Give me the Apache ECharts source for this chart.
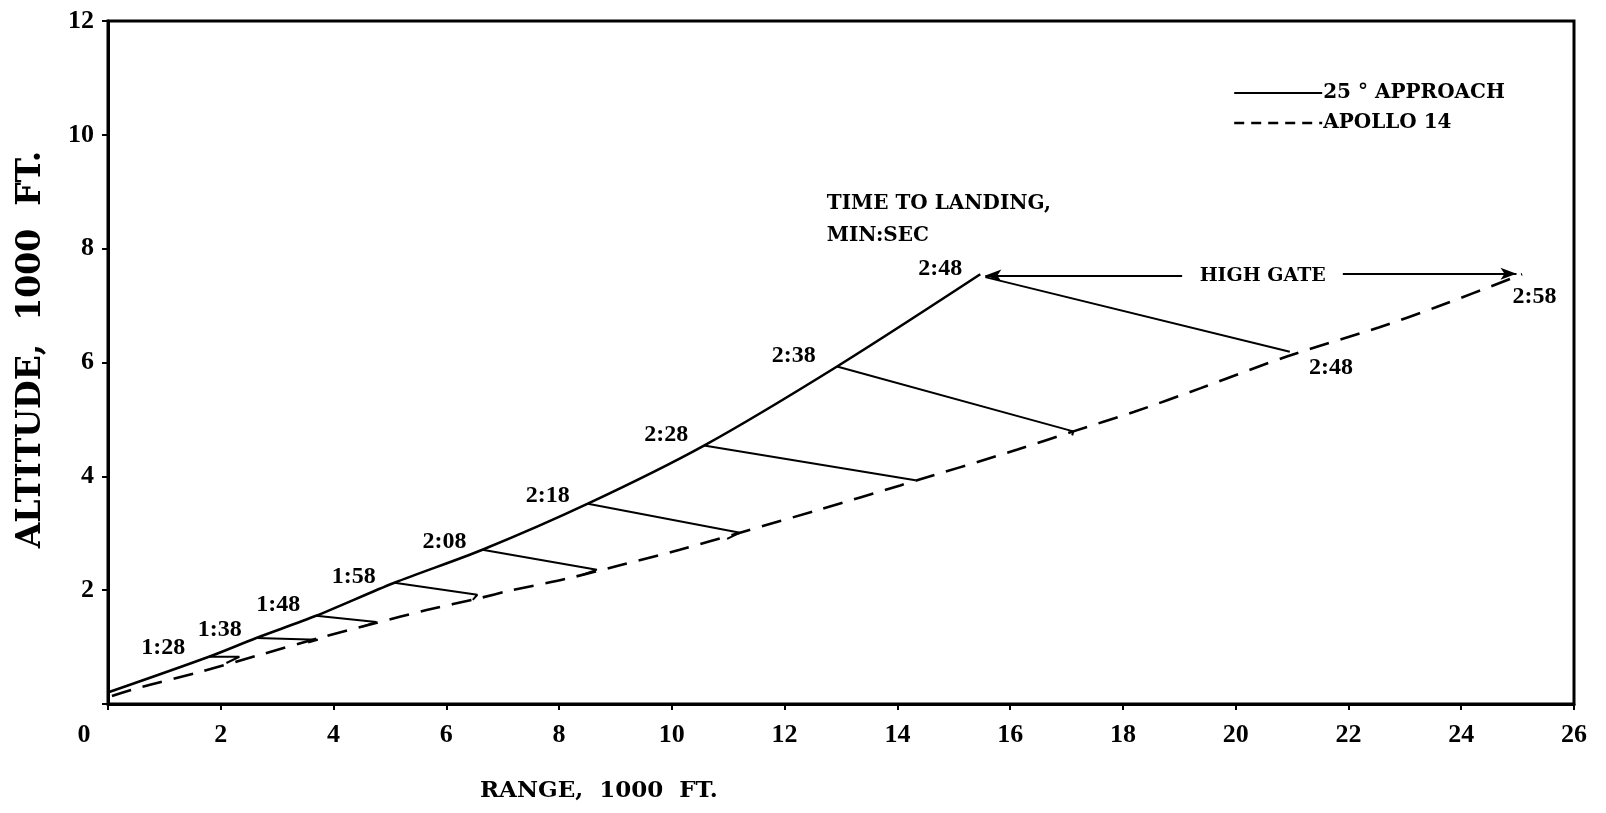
<!DOCTYPE html>
<html>
<head>
<meta charset="utf-8">
<script src="https://cdn.jsdelivr.net/npm/echarts@6/dist/echarts.min.js"></script>
<style>html,body{margin:0;padding:0;background:#fff;}#c{width:1606px;height:813px;}</style>
</head>
<body>
<div id="c"></div>
<script>
// ---- data (range & altitude in 1000 ft) ----
const xTicks = [0, 2, 4, 6, 8, 10, 12, 14, 16, 18, 20, 22, 24, 26];
const yTicks = [0, 2, 4, 6, 8, 10, 12];

const rangeSolid = [0.02, 1.79, 2.63, 3.69, 5.08, 6.64, 8.51, 10.57, 12.93, 15.47];
const altSolid   = [0.21, 0.83, 1.16, 1.55, 2.13, 2.71, 3.52, 4.54, 5.93, 7.55];

const rangeDash = [0.07, 0.60, 1.62, 2.68, 3.75, 4.70, 5.65, 6.59, 7.12, 8.13, 9.13, 10.14, 11.21, 12.63, 14.05, 16.13, 17.12, 18.19, 19.38, 20.92, 22.55, 23.55, 25.08];
const altDash   = [0.14, 0.30, 0.56, 0.86, 1.16, 1.41, 1.65, 1.86, 1.99, 2.20, 2.45, 2.71, 3.01, 3.42, 3.84, 4.47, 4.79, 5.13, 5.55, 6.11, 6.62, 6.97, 7.55];

// connectors between equal-time points (solid start, dashed end, small hook)
const connRange = [[1.79, 2.33, 2.10], [2.63, 3.72, 3.55], [3.69, 4.76, 4.51], [5.08, 6.55, 6.47], [6.64, 8.67, 8.42], [8.51, 11.21, 10.98], [10.57, 14.32], [12.93, 17.12, 17.10], [15.56, 20.96]];
const connAlt   = [[0.83, 0.83, 0.72], [1.16, 1.13, 1.08], [1.55, 1.44, 1.36], [2.13, 1.92, 1.83], [2.71, 2.36, 2.27], [3.52, 3.01, 2.90], [4.54, 3.93], [5.93, 4.79, 4.72], [7.50, 6.19]];

const timeLabels = ['1:28', '1:38', '1:48', '1:58', '2:08', '2:18', '2:28', '2:38', '2:48', '2:48', '2:58'];
const labelRange = [0.98, 1.98, 3.02, 4.36, 5.97, 7.80, 9.90, 12.16, 14.76, 21.69, 25.30];
const labelAlt   = [0.99, 1.30, 1.74, 2.23, 2.85, 3.66, 4.73, 6.11, 7.64, 5.91, 7.16];

const captionText = 'TIME TO LANDING,\nMIN:SEC';
const captionRange = 12.74, captionAlt = 8.50;
const gateText = 'HIGH GATE';
const gateRange = 20.48, gateAlt = 7.52;
const gateArrowRange = [[19.05, 15.56], [21.90, 24.98]];
const gateArrowAlt   = [[7.53, 7.53], [7.56, 7.56]];

const seriesNames = ['25 \u00B0 APPROACH', 'APOLLO 14'];

// ---- chart ----
const zip = (a, b) => a.map((v, i) => [v, b[i]]);
const serifB = 'DejaVu Serif';
const tickFont = 'Liberation Serif';

const series = [];
series.push({
  name: seriesNames[0], type: 'line', data: zip(rangeSolid, altSolid),
  smooth: 0.3, symbol: 'none', itemStyle: { color: '#000' },
  lineStyle: { color: '#000', width: 2.6, type: 'solid' }, z: 5
});
series.push({
  name: seriesNames[1], type: 'line', data: zip(rangeDash, altDash),
  smooth: 0.3, symbol: 'none', itemStyle: { color: '#000' },
  lineStyle: { color: '#000', width: 2.6, type: [20, 12] }, z: 5
});
connRange.forEach((xs, i) => {
  series.push({
    type: 'line', data: zip(xs, connAlt[i]), symbol: 'none', silent: true,
    lineStyle: { color: '#000', width: 2 }, z: 4
  });
});
const noMark = { color: 'rgba(0,0,0,0)', opacity: 1 };
series.push({
  type: 'scatter', symbolSize: 1, itemStyle: noMark, silent: true,
  data: timeLabels.map((t, i) => ({ name: t, value: [labelRange[i], labelAlt[i]] })),
  label: { show: true, position: 'inside', formatter: p => p.name, color: '#000', opacity: 1,
    fontFamily: tickFont, fontWeight: 'bold', fontSize: 24 }
});
series.push({
  type: 'scatter', symbolSize: 1, itemStyle: noMark, silent: true,
  data: [{ name: captionText, value: [captionRange, captionAlt] }],
  label: { show: true, position: 'right', distance: 0, align: 'left', formatter: p => p.name,
    color: '#000', opacity: 1, fontFamily: serifB, fontWeight: 'bold', fontSize: 20, lineHeight: 32 }
});
series.push({
  type: 'scatter', symbolSize: 1, itemStyle: noMark, silent: true,
  data: [{ name: gateText, value: [gateRange, gateAlt] }],
  label: { show: true, position: 'inside', formatter: p => p.name,
    color: '#000', opacity: 1, fontFamily: serifB, fontWeight: 'bold', fontSize: 19 }
});
series.push({
  type: 'line', data: [], silent: true,
  markLine: {
    silent: true, symbol: ['none', 'arrow'], symbolSize: [9, 16],
    label: { show: false }, lineStyle: { color: '#000', width: 1.8, type: 'solid' },
    data: gateArrowRange.map((xs, i) => [{ coord: [xs[0], gateArrowAlt[i][0]] }, { coord: [xs[1], gateArrowAlt[i][1]] }])
  }
});

const option = {
  animation: false,
  backgroundColor: '#fff',
  grid: { left: 108, right: 32, top: 21, bottom: 109, show: true, borderColor: '#000', borderWidth: 3, backgroundColor: 'transparent' },
  legend: {
    data: [
      { name: seriesNames[0] },
      { name: seriesNames[1], lineStyle: { type: [10, 7], width: 2.4 } }
    ],
    orient: 'vertical', left: 1228, top: 78, itemWidth: 88, itemHeight: 12, itemGap: 10,
    itemStyle: { opacity: 0 },
    textStyle: { color: '#000', fontFamily: serifB, fontWeight: 'bold', fontSize: 20, padding: [0, 0, 0, -4] },
    selectedMode: false
  },
  xAxis: {
    type: 'value', min: xTicks[0], max: xTicks[xTicks.length - 1], interval: xTicks[1] - xTicks[0],
    axisLine: { lineStyle: { color: '#000', width: 3 } },
    axisTick: { show: true, length: 6, lineStyle: { color: '#000', width: 2 } },
    splitLine: { show: false },
    axisLabel: {
      margin: 18, color: '#000', fontFamily: tickFont, fontWeight: 'bold', fontSize: 26,
      formatter: v => v === 0 ? '{z|0}' : String(v),
      rich: { z: { padding: [0, 48, 0, 0], color: '#000', fontFamily: tickFont, fontWeight: 'bold', fontSize: 26 } }
    }
  },
  yAxis: {
    type: 'value', min: yTicks[0], max: yTicks[yTicks.length - 1], interval: yTicks[1] - yTicks[0],
    name: 'ALTITUDE,  1000  FT.', nameLocation: 'middle', nameGap: 60, nameRotate: 90,
    nameTextStyle: { color: '#000', fontFamily: serifB, fontWeight: 'bold', fontSize: 33, padding: [0, 0, 0, 26] },
    axisLine: { lineStyle: { color: '#000', width: 3 } },
    axisTick: { show: true, length: 6, lineStyle: { color: '#000', width: 2 } },
    splitLine: { show: false },
    axisLabel: {
      margin: 14, color: '#000', fontFamily: tickFont, fontWeight: 'bold', fontSize: 26,
      formatter: v => v === 0 ? '' : String(v)
    }
  },
  graphic: [{
    type: 'text', left: 480, top: 780,
    style: { text: 'RANGE,  1000  FT.', fill: '#000', font: 'bold 23px "DejaVu Serif"' }
  }],
  series: series
};

const chart = echarts.init(document.getElementById('c'), null, { renderer: 'canvas' });
chart.setOption(option);
</script>
</body>
</html>
